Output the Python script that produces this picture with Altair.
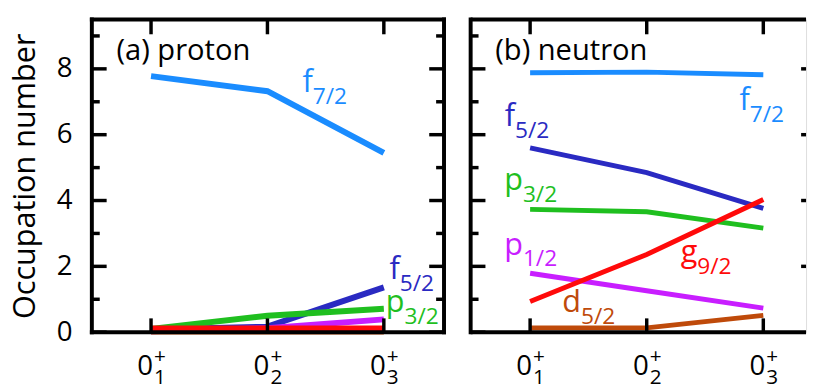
import altair as alt
import pandas as pd

FONT = "Open Sans"

# ---- data ----
states = [1, 2, 3]
state_base = ["0", "0", "0"]
state_sup = ["+", "+", "+"]
state_sub = ["1", "2", "3"]

orbitals = ["f7/2", "f5/2", "p3/2", "p1/2", "d5/2", "g9/2"]
orbital_colors = ["#1a8cff", "#2a2ac2", "#1fbf1f", "#c81eff", "#bf4a0a", "#ff0a0a"]

# proton occupation numbers at 0+_1, 0+_2, 0+_3
proton_f72 = [7.78, 7.32, 5.45]
proton_f52 = [0.08, 0.17, 1.36]
proton_p32 = [0.10, 0.50, 0.71]
proton_p12 = [0.03, 0.12, 0.39]
proton_d52 = [0.02, 0.02, 0.02]
proton_g92 = [0.11, 0.11, 0.11]

# neutron occupation numbers
neutron_f72 = [7.88, 7.90, 7.82]
neutron_f52 = [5.60, 4.85, 3.76]
neutron_p32 = [3.73, 3.66, 3.16]
neutron_p12 = [1.79, 1.26, 0.73]
neutron_d52 = [0.13, 0.13, 0.51]
neutron_g92 = [0.93, 2.36, 4.03]

# curve labels (anchor in data units)
proton_label_orb = ["f7/2", "f5/2", "p3/2"]
proton_label_x = [2.39, 3.136, 3.178]
proton_label_y = [7.30, 1.61, 0.62]
neutron_label_orb = ["f7/2", "f5/2", "p3/2", "p1/2", "g9/2", "d5/2"]
neutron_label_x = [2.884, 0.871, 0.938, 0.938, 2.434, 1.437]
neutron_label_y = [6.76, 6.25, 4.31, 2.36, 2.12, 0.62]

panel_titles = ["(a) proton", "(b) neutron"]
title_x = [0.703, 0.701]
title_y = [8.26, 8.26]

y_major = [0, 2, 4, 6, 8]
y_minor = [1, 3, 5, 7, 9]
y_domain = [0, 9.5]

# ---- build ----
color_scale = alt.Scale(domain=orbitals, range=orbital_colors)
ONE = pd.DataFrame({"k": [0]})


def lines_df(series):
    rows = []
    for orb, vals in zip(orbitals, series):
        for s, v in zip(states, vals):
            rows.append({"orb": orb, "s": s, "occ": v})
    return pd.DataFrame(rows)


def panel(series, lab_orb, lab_x, lab_y, title, tx, ty, width, height, xdom,
          show_axis, line_w):
    xs = alt.Scale(domain=xdom, nice=False, zero=False)
    ys = alt.Scale(domain=y_domain, nice=False, zero=False)
    df = lines_df(series)
    layers = []
    if show_axis:
        yaxis = alt.Axis(values=y_major, ticks=False, domain=False, grid=False,
                         labelFontSize=28, labelPadding=20, labelColor="black",
                         labelFont=FONT, title="Occupation number",
                         titleFontSize=31, titleFont=FONT,
                         titleFontWeight="normal", titleColor="black",
                         titlePadding=15)
    else:
        yaxis = None
    for orb in orbitals:
        layers.append(
            alt.Chart(df).transform_filter(alt.datum.orb == orb)
            .mark_line(strokeWidth=line_w, strokeCap="butt", strokeJoin="miter")
            .encode(x=alt.X("s:Q", scale=xs, axis=None),
                    y=alt.Y("occ:Q", scale=ys, axis=yaxis),
                    color=alt.Color("orb:N", scale=color_scale, legend=None))
        )
    ldf = pd.DataFrame({"orb": lab_orb, "lx": lab_x, "ly": lab_y,
                        "main": [o[0] for o in lab_orb],
                        "sub": [o[1:] for o in lab_orb]})
    enc = dict(x=alt.X("lx:Q", scale=xs, axis=None),
               y=alt.Y("ly:Q", scale=ys, axis=yaxis),
               color=alt.Color("orb:N", scale=color_scale, legend=None))
    layers.append(alt.Chart(ldf).mark_text(align="right", baseline="alphabetic",
                                           fontSize=31, font=FONT)
                  .encode(text="main:N", **enc))
    layers.append(alt.Chart(ldf).mark_text(align="left", baseline="alphabetic",
                                           fontSize=23, font=FONT, dy=12)
                  .encode(text="sub:N", **enc))
    tdf = pd.DataFrame({"t": [title], "tx": [tx], "ty": [ty]})
    layers.append(alt.Chart(tdf).mark_text(align="left", baseline="alphabetic",
                                           fontSize=29.5, font=FONT, color="black")
                  .encode(x=alt.X("tx:Q", scale=xs, axis=None),
                          y=alt.Y("ty:Q", scale=ys, axis=yaxis), text="t:N"))
    # frame
    fr = dict(color="black", strokeWidth=4, strokeCap="square")
    frh = dict(color="black", strokeWidth=4,
               strokeCap="square" if show_axis else "butt")
    layers.append(alt.Chart(ONE).mark_rule(**fr).encode(
        x=alt.value(0), y=alt.value(0), y2=alt.value(height)))
    layers.append(alt.Chart(ONE).mark_rule(**frh).encode(
        x=alt.value(0), x2=alt.value(width), y=alt.value(height)))
    layers.append(alt.Chart(ONE).mark_rule(**frh).encode(
        x=alt.value(0), x2=alt.value(width), y=alt.value(0)))
    if show_axis:
        layers.append(alt.Chart(ONE).mark_rule(**fr).encode(
            x=alt.value(width), y=alt.value(0), y2=alt.value(height)))
    # ticks
    tk = dict(color="black", strokeWidth=3.5)
    ymaj = pd.DataFrame({"v": y_major})
    ymin = pd.DataFrame({"v": y_minor})
    xt = pd.DataFrame({"v": states})
    yenc = alt.Y("v:Q", scale=ys, axis=yaxis)
    layers.append(alt.Chart(ymaj).mark_rule(**tk).encode(
        y=yenc, x=alt.value(0), x2=alt.value(15)))
    layers.append(alt.Chart(ymin).mark_rule(**tk).encode(
        y=yenc, x=alt.value(0), x2=alt.value(8)))
    if show_axis:
        layers.append(alt.Chart(ymaj).mark_rule(**tk).encode(
            y=yenc, x=alt.value(width - 15), x2=alt.value(width)))
        layers.append(alt.Chart(ymin).mark_rule(**tk).encode(
            y=yenc, x=alt.value(width - 8), x2=alt.value(width)))
    else:
        layers.append(alt.Chart(pd.DataFrame({"v": y_major[1:]})).mark_rule(**tk).encode(
            y=yenc, x=alt.value(width - 5), x2=alt.value(width)))
    xenc = alt.X("v:Q", scale=xs, axis=None)
    layers.append(alt.Chart(xt).mark_rule(**tk).encode(
        x=xenc, y=alt.value(0), y2=alt.value(15)))
    layers.append(alt.Chart(xt).mark_rule(**tk).encode(
        x=xenc, y=alt.value(height), y2=alt.value(height - 14)))
    # x tick labels 0^+_n
    sdf = pd.DataFrame({"v": states, "b": state_base, "sp": state_sup, "sb": state_sub})
    layers.append(alt.Chart(sdf).mark_text(align="right", baseline="alphabetic",
                                           fontSize=28, font=FONT, color="black", dx=2)
                  .encode(x=xenc, y=alt.value(height + 43), text="b:N"))
    layers.append(alt.Chart(sdf).mark_text(align="center", baseline="alphabetic",
                                           fontSize=21, font=FONT, color="black", dx=9)
                  .encode(x=xenc, y=alt.value(height + 31), text="sp:N"))
    layers.append(alt.Chart(sdf).mark_text(align="center", baseline="alphabetic",
                                           fontSize=21, font=FONT, color="black", dx=9)
                  .encode(x=xenc, y=alt.value(height + 53), text="sb:N"))
    return alt.layer(*layers).properties(width=width, height=height)


H = 317
WL = 357
WR = 340
left = panel([proton_f72, proton_f52, proton_p32, proton_p12, proton_d52, proton_g92],
             proton_label_orb, proton_label_x, proton_label_y,
             panel_titles[0], title_x[0], title_y[0],
             WL, H, [0.4915, 0.4915 + WL / 118], True, 6)
right = panel([neutron_f72, neutron_f52, neutron_p32, neutron_p12, neutron_d52, neutron_g92],
              neutron_label_orb, neutron_label_x, neutron_label_y,
              panel_titles[1], title_x[1], title_y[1],
              WR, H, [0.49, 0.49 + WR / 118.2], False, 5)

chart = alt.hconcat(left, right, spacing=19).properties(
    padding={"left": 1, "top": 5, "right": 0, "bottom": 0}
).configure_view(strokeWidth=0).configure(font=FONT)

chart.save("out.html", embed_options={"renderer": "svg", "actions": False})
